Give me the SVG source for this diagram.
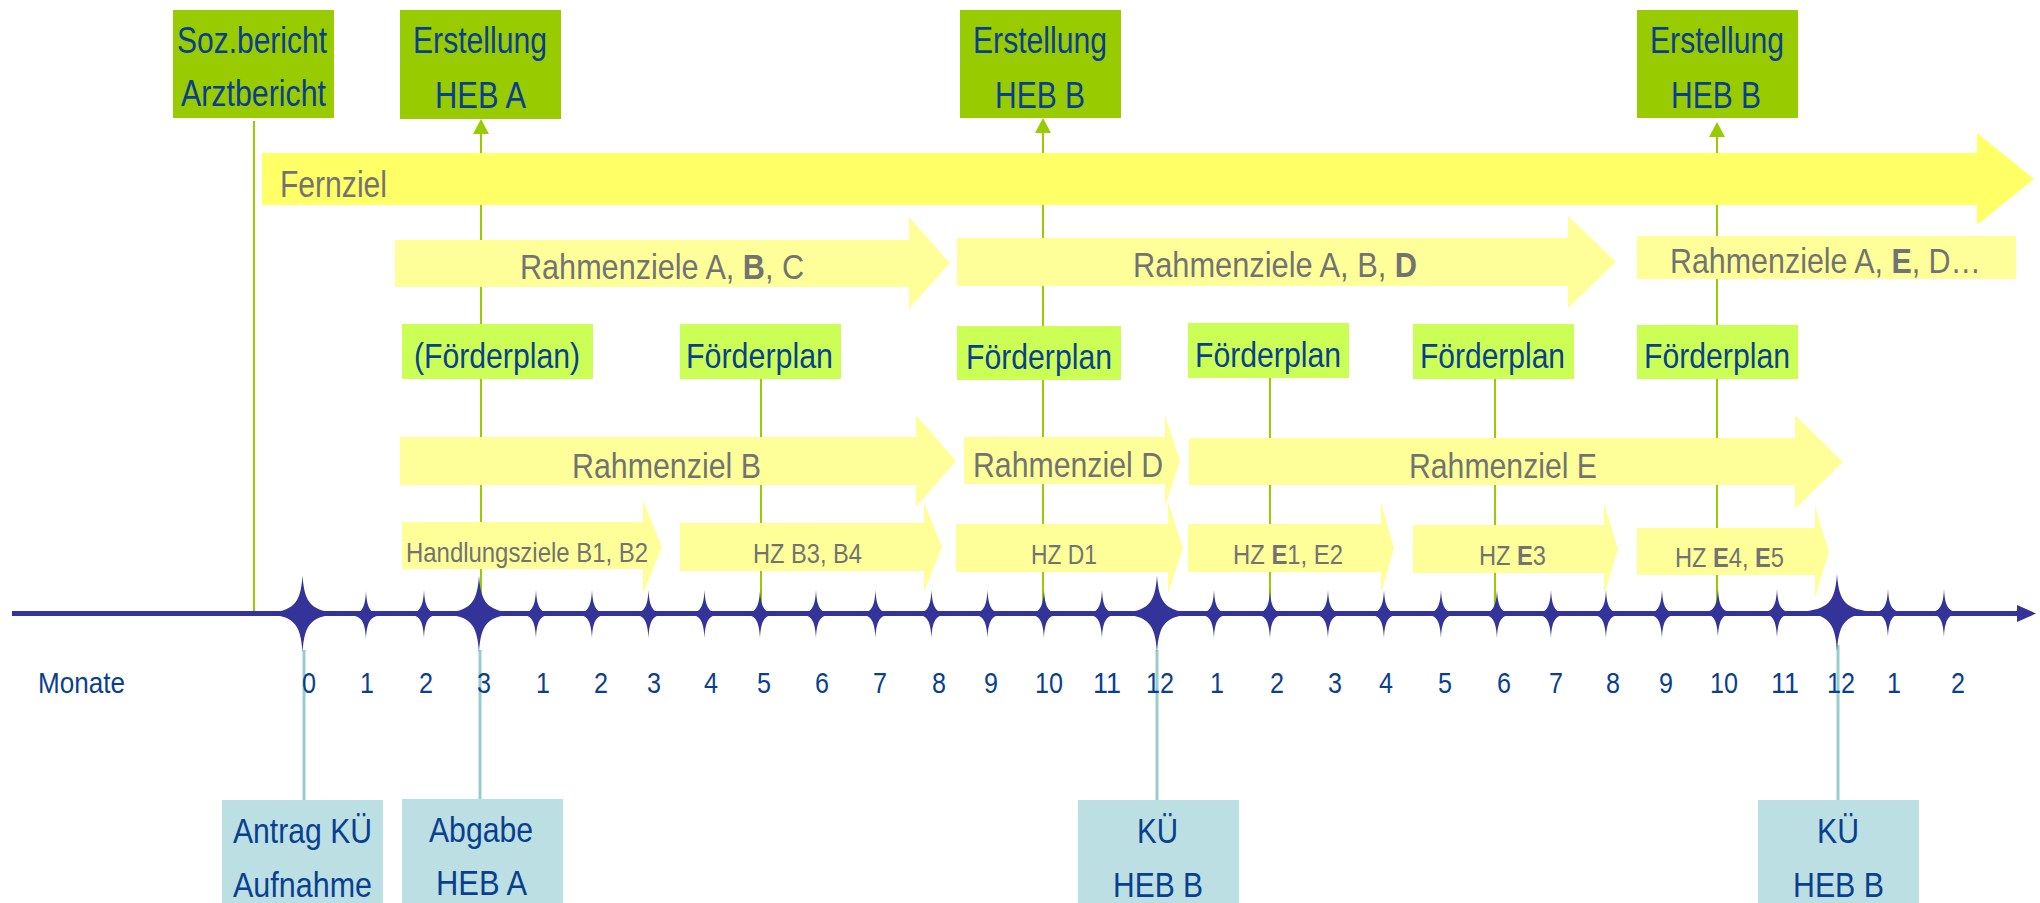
<svg xmlns="http://www.w3.org/2000/svg" xmlns:xlink="http://www.w3.org/1999/xlink" width="2040" height="903" viewBox="0 0 2040 903">
<style>
text { font-family: "Liberation Sans", Arial, sans-serif; }
.blue { fill: #0A3F8F; }
.gray { fill: #737373; }
.gbox { fill: #99CC00; }
.lbox { fill: #CCFF55; }
.tbox { fill: #BBDFE3; }
.y1 { fill: #FFFF66; }
.y2 { fill: #FFFF99; }
.gl { stroke: #99CC00; stroke-width: 2; fill: none; }
.tl { stroke: #99CCCC; stroke-width: 3; fill: none; }
.star { fill: #333399; }
.t36 { font-size: 36px; }
.t35 { font-size: 35px; }
.t28 { font-size: 28px; }
.t30 { font-size: 30px; }
</style>
<defs>
<marker id="ga" markerUnits="userSpaceOnUse" markerWidth="16" markerHeight="16" viewBox="0 0 15 16" refX="0" refY="8" orient="auto">
<path d="M0,0 L15,8 L0,16 Z" fill="#99CC00"/>
</marker>
<path id="sBig" d="M0,-38 C2,-9 9,-3 37,0 C9,3 2,9 0,39 C-2,9 -9,3 -37,0 C-9,-3 -2,-9 0,-38 Z"/>
<path id="sSm" d="M0,-24 C1,-5 5,-1 17,0 C5,1 1,5 0,24 C-1,5 -5,1 -17,0 C-5,-1 -1,-5 0,-24 Z"/>
</defs>
<rect width="2040" height="903" fill="#FFFFFF"/>

<g id="connectors">
<line class="gl" x1="254" y1="121" x2="254" y2="613"/>
<line class="gl" x1="481" y1="613" x2="481" y2="134" marker-end="url(#ga)"/>
<line class="gl" x1="1043" y1="613" x2="1043" y2="133" marker-end="url(#ga)"/>
<line class="gl" x1="1717" y1="613" x2="1717" y2="137" marker-end="url(#ga)"/>
<line class="gl" x1="761" y1="379" x2="761" y2="613"/>
<line class="gl" x1="1270" y1="378" x2="1270" y2="613"/>
<line class="gl" x1="1495" y1="379" x2="1495" y2="613"/>
<line class="tl" x1="304" y1="650" x2="304" y2="801"/>
<line class="tl" x1="480" y1="650" x2="480" y2="800"/>
<line class="tl" x1="1157" y1="650" x2="1157" y2="801"/>
<line class="tl" x1="1838" y1="645" x2="1838" y2="801"/>
</g>

<g id="fernziel">
<path class="y1" d="M262,153 H1977 V133 L2034,179 L1977,225 V205 H262 Z"/>
<text class="gray" x="280" y="197" font-size="37" textLength="107" lengthAdjust="spacingAndGlyphs">Fernziel</text>
</g>
<g id="rz-abc">
<path class="y2" d="M395,240 H909 V217 L950,263 L909,309 V287 H395 Z"/>
<text class="gray t35" x="520" y="279" textLength="284" lengthAdjust="spacingAndGlyphs">Rahmenziele A, <tspan font-weight="bold">B</tspan>, C</text>
</g>
<g id="rz-abd">
<path class="y2" d="M957,238 H1568 V216 L1616,262 L1568,308 V286 H957 Z"/>
<text class="gray t35" x="1133" y="277" textLength="284" lengthAdjust="spacingAndGlyphs">Rahmenziele A, B, <tspan font-weight="bold">D</tspan></text>
</g>
<g id="rz-aed">
<rect class="y2" x="1637" y="236" width="379" height="43"/>
<text class="gray t35" x="1670" y="273" textLength="311" lengthAdjust="spacingAndGlyphs">Rahmenziele A, <tspan font-weight="bold">E</tspan>, D…</text>
</g>
<g id="rz-b">
<path class="y2" d="M400,437 H916 V415 L956,461 L916,507 V485 H400 Z"/>
<text class="gray t35" x="572" y="478" textLength="189" lengthAdjust="spacingAndGlyphs">Rahmenziel B</text>
</g>
<g id="rz-d">
<path class="y2" d="M964,437 H1165 V415 L1180,461 L1165,507 V484 H964 Z"/>
<text class="gray t35" x="973" y="477" textLength="190" lengthAdjust="spacingAndGlyphs">Rahmenziel D</text>
</g>
<g id="rz-e">
<path class="y2" d="M1189,438 H1795 V415 L1843,462 L1795,509 V485 H1189 Z"/>
<text class="gray t35" x="1409" y="478" textLength="188" lengthAdjust="spacingAndGlyphs">Rahmenziel E</text>
</g>
<g id="hz-b1b2">
<path class="y2" d="M402,522 H643 V500 L662,547 L643,594 V569 H402 Z"/>
<text class="gray t28" x="406" y="562" textLength="242" lengthAdjust="spacingAndGlyphs">Handlungsziele B1, B2</text>
</g>
<g id="hz-b3b4">
<path class="y2" d="M680,523 H924 V502 L942,547 L924,592 V571 H680 Z"/>
<text class="gray t28" x="753" y="563" textLength="109" lengthAdjust="spacingAndGlyphs">HZ B3, B4</text>
</g>
<g id="hz-d1">
<path class="y2" d="M956,524 H1168 V502 L1183,548 L1168,594 V572 H956 Z"/>
<text class="gray t28" x="1031" y="564" textLength="66" lengthAdjust="spacingAndGlyphs">HZ D1</text>
</g>
<g id="hz-e1e2">
<path class="y2" d="M1188,524 H1381 V502 L1394,548 L1381,594 V572 H1188 Z"/>
<text class="gray t28" x="1233" y="564" textLength="110" lengthAdjust="spacingAndGlyphs">HZ <tspan font-weight="bold">E</tspan>1, E2</text>
</g>
<g id="hz-e3">
<path class="y2" d="M1413,525 H1604 V503 L1618,549 L1604,595 V573 H1413 Z"/>
<text class="gray t28" x="1479" y="565" textLength="67" lengthAdjust="spacingAndGlyphs">HZ <tspan font-weight="bold">E</tspan>3</text>
</g>
<g id="hz-e4e5">
<path class="y2" d="M1637,528 H1815 V506 L1829,552 L1815,598 V575 H1637 Z"/>
<text class="gray t28" x="1675" y="567" textLength="109" lengthAdjust="spacingAndGlyphs">HZ <tspan font-weight="bold">E</tspan>4, <tspan font-weight="bold">E</tspan>5</text>
</g>

<g id="soz">
<rect class="gbox" x="173" y="10" width="161" height="108"/>
<text class="blue t36" x="177" y="53" textLength="150" lengthAdjust="spacingAndGlyphs">Soz.bericht</text>
<text class="blue t36" x="181" y="106" textLength="145" lengthAdjust="spacingAndGlyphs">Arztbericht</text>
</g>
<g id="heb-a">
<rect class="gbox" x="400" y="10" width="161" height="109"/>
<text class="blue t36" x="413" y="53" textLength="134" lengthAdjust="spacingAndGlyphs">Erstellung</text>
<text class="blue t36" x="435" y="108" textLength="91" lengthAdjust="spacingAndGlyphs">HEB A</text>
</g>
<g id="heb-b1">
<rect class="gbox" x="960" y="10" width="161" height="108"/>
<text class="blue t36" x="973" y="53" textLength="134" lengthAdjust="spacingAndGlyphs">Erstellung</text>
<text class="blue t36" x="995" y="108" textLength="90" lengthAdjust="spacingAndGlyphs">HEB B</text>
</g>
<g id="heb-b2">
<rect class="gbox" x="1637" y="10" width="161" height="108"/>
<text class="blue t36" x="1650" y="53" textLength="134" lengthAdjust="spacingAndGlyphs">Erstellung</text>
<text class="blue t36" x="1671" y="108" textLength="90" lengthAdjust="spacingAndGlyphs">HEB B</text>
</g>

<g id="fp1">
<rect class="lbox" x="402" y="324" width="191" height="55"/>
<text class="blue t35" x="414" y="368" textLength="166" lengthAdjust="spacingAndGlyphs">(Förderplan)</text>
</g>
<g id="fp2">
<rect class="lbox" x="680" y="324" width="161" height="55"/>
<text class="blue t35" x="686" y="368" textLength="147" lengthAdjust="spacingAndGlyphs">Förderplan</text>
</g>
<g id="fp3">
<rect class="lbox" x="957" y="326" width="164" height="54"/>
<text class="blue t35" x="966" y="369" textLength="146" lengthAdjust="spacingAndGlyphs">Förderplan</text>
</g>
<g id="fp4">
<rect class="lbox" x="1188" y="323" width="161" height="55"/>
<text class="blue t35" x="1195" y="367" textLength="146" lengthAdjust="spacingAndGlyphs">Förderplan</text>
</g>
<g id="fp5">
<rect class="lbox" x="1413" y="324" width="161" height="55"/>
<text class="blue t35" x="1420" y="368" textLength="145" lengthAdjust="spacingAndGlyphs">Förderplan</text>
</g>
<g id="fp6">
<rect class="lbox" x="1637" y="325" width="161" height="54"/>
<text class="blue t35" x="1644" y="368" textLength="146" lengthAdjust="spacingAndGlyphs">Förderplan</text>
</g>

<g id="timeline">
<rect x="12" y="611" width="2008" height="5" fill="#333399"/>
<polygon points="2017,605 2036,613.5 2017,622" fill="#333399"/>
<g class="star">
<use xlink:href="#sBig" href="#sBig" x="302.5" y="613.5"/>
<use xlink:href="#sSm" href="#sSm" x="366" y="615"/>
<use xlink:href="#sSm" href="#sSm" x="424" y="614"/>
<use xlink:href="#sBig" href="#sBig" x="479" y="613.5"/>
<use xlink:href="#sSm" href="#sSm" x="536" y="614"/>
<use xlink:href="#sSm" href="#sSm" x="592" y="614"/>
<use xlink:href="#sSm" href="#sSm" x="648.5" y="614"/>
<use xlink:href="#sSm" href="#sSm" x="704.5" y="614"/>
<use xlink:href="#sSm" href="#sSm" x="760" y="614"/>
<use xlink:href="#sSm" href="#sSm" x="816" y="614"/>
<use xlink:href="#sSm" href="#sSm" x="875.5" y="614"/>
<use xlink:href="#sSm" href="#sSm" x="931.5" y="614"/>
<use xlink:href="#sSm" href="#sSm" x="987.5" y="614"/>
<use xlink:href="#sSm" href="#sSm" x="1044" y="614"/>
<use xlink:href="#sSm" href="#sSm" x="1102" y="614"/>
<use xlink:href="#sBig" href="#sBig" x="1157" y="613.5"/>
<use xlink:href="#sSm" href="#sSm" x="1214" y="614"/>
<use xlink:href="#sSm" href="#sSm" x="1270" y="614"/>
<use xlink:href="#sSm" href="#sSm" x="1328" y="614"/>
<use xlink:href="#sSm" href="#sSm" x="1384" y="614"/>
<use xlink:href="#sSm" href="#sSm" x="1441" y="614"/>
<use xlink:href="#sSm" href="#sSm" x="1497" y="614"/>
<use xlink:href="#sSm" href="#sSm" x="1551" y="614"/>
<use xlink:href="#sSm" href="#sSm" x="1606" y="614"/>
<use xlink:href="#sSm" href="#sSm" x="1662" y="614"/>
<use xlink:href="#sSm" href="#sSm" x="1718" y="613"/>
<use xlink:href="#sSm" href="#sSm" x="1777" y="613"/>
<use xlink:href="#sBig" href="#sBig" x="1837" y="612"/>
<use xlink:href="#sSm" href="#sSm" x="1888" y="613"/>
<use xlink:href="#sSm" href="#sSm" x="1944" y="613"/>
</g>
</g>

<g id="months" class="blue t30">
<text x="38" y="693" textLength="87" lengthAdjust="spacingAndGlyphs">Monate</text>
<text x="302" y="693" textLength="14" lengthAdjust="spacingAndGlyphs">0</text>
<text x="360" y="693" textLength="14" lengthAdjust="spacingAndGlyphs">1</text>
<text x="419" y="693" textLength="14" lengthAdjust="spacingAndGlyphs">2</text>
<text x="477" y="693" textLength="14" lengthAdjust="spacingAndGlyphs">3</text>
<text x="536" y="693" textLength="14" lengthAdjust="spacingAndGlyphs">1</text>
<text x="594" y="693" textLength="14" lengthAdjust="spacingAndGlyphs">2</text>
<text x="647" y="693" textLength="14" lengthAdjust="spacingAndGlyphs">3</text>
<text x="704" y="693" textLength="14" lengthAdjust="spacingAndGlyphs">4</text>
<text x="757" y="693" textLength="14" lengthAdjust="spacingAndGlyphs">5</text>
<text x="815" y="693" textLength="14" lengthAdjust="spacingAndGlyphs">6</text>
<text x="873" y="693" textLength="14" lengthAdjust="spacingAndGlyphs">7</text>
<text x="932" y="693" textLength="14" lengthAdjust="spacingAndGlyphs">8</text>
<text x="984" y="693" textLength="14" lengthAdjust="spacingAndGlyphs">9</text>
<text x="1035" y="693" textLength="28" lengthAdjust="spacingAndGlyphs">10</text>
<text x="1093" y="693" textLength="28" lengthAdjust="spacingAndGlyphs">11</text>
<text x="1146" y="693" textLength="28" lengthAdjust="spacingAndGlyphs">12</text>
<text x="1210" y="693" textLength="14" lengthAdjust="spacingAndGlyphs">1</text>
<text x="1270" y="693" textLength="14" lengthAdjust="spacingAndGlyphs">2</text>
<text x="1328" y="693" textLength="14" lengthAdjust="spacingAndGlyphs">3</text>
<text x="1379" y="693" textLength="14" lengthAdjust="spacingAndGlyphs">4</text>
<text x="1438" y="693" textLength="14" lengthAdjust="spacingAndGlyphs">5</text>
<text x="1497" y="693" textLength="14" lengthAdjust="spacingAndGlyphs">6</text>
<text x="1549" y="693" textLength="14" lengthAdjust="spacingAndGlyphs">7</text>
<text x="1606" y="693" textLength="14" lengthAdjust="spacingAndGlyphs">8</text>
<text x="1659" y="693" textLength="14" lengthAdjust="spacingAndGlyphs">9</text>
<text x="1710" y="693" textLength="28" lengthAdjust="spacingAndGlyphs">10</text>
<text x="1771" y="693" textLength="28" lengthAdjust="spacingAndGlyphs">11</text>
<text x="1827" y="693" textLength="28" lengthAdjust="spacingAndGlyphs">12</text>
<text x="1887" y="693" textLength="14" lengthAdjust="spacingAndGlyphs">1</text>
<text x="1951" y="693" textLength="14" lengthAdjust="spacingAndGlyphs">2</text>
</g>

<g id="antrag">
<rect class="tbox" x="222" y="800" width="161" height="103"/>
<text class="blue t35" x="233" y="843" textLength="139" lengthAdjust="spacingAndGlyphs">Antrag KÜ</text>
<text class="blue t35" x="233" y="897" textLength="139" lengthAdjust="spacingAndGlyphs">Aufnahme</text>
</g>
<g id="abgabe">
<rect class="tbox" x="402" y="799" width="161" height="104"/>
<text class="blue t35" x="429" y="842" textLength="104" lengthAdjust="spacingAndGlyphs">Abgabe</text>
<text class="blue t35" x="436" y="895" textLength="91" lengthAdjust="spacingAndGlyphs">HEB A</text>
</g>
<g id="ku1">
<rect class="tbox" x="1078" y="800" width="161" height="103"/>
<text class="blue t35" x="1137" y="843" textLength="41" lengthAdjust="spacingAndGlyphs">KÜ</text>
<text class="blue t35" x="1113" y="897" textLength="90" lengthAdjust="spacingAndGlyphs">HEB B</text>
</g>
<g id="ku2">
<rect class="tbox" x="1758" y="800" width="161" height="103"/>
<text class="blue t35" x="1817" y="843" textLength="42" lengthAdjust="spacingAndGlyphs">KÜ</text>
<text class="blue t35" x="1793" y="897" textLength="91" lengthAdjust="spacingAndGlyphs">HEB B</text>
</g>
</svg>
